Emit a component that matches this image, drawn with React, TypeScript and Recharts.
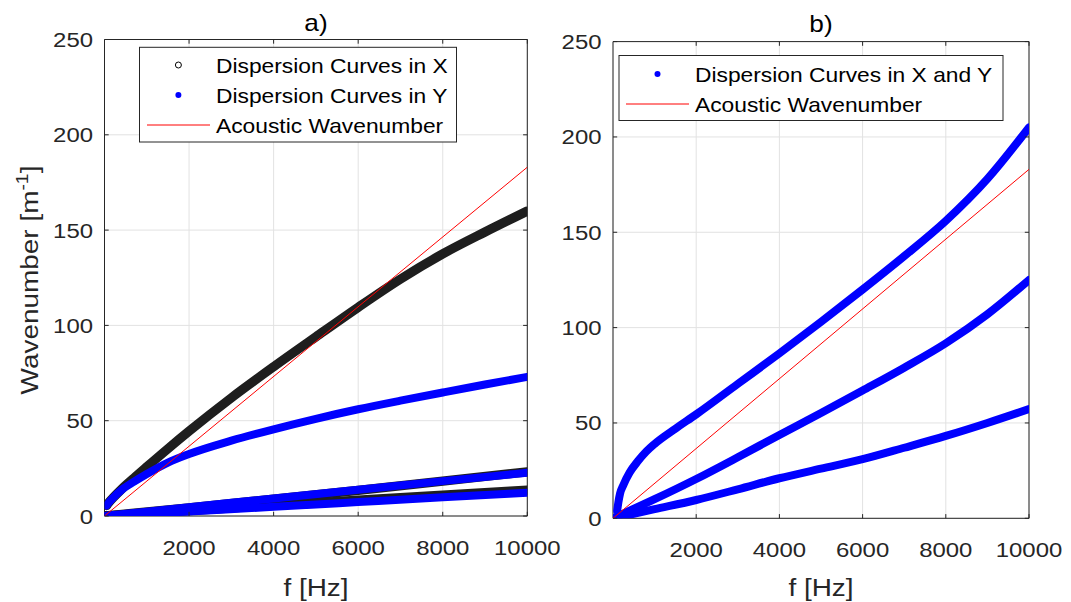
import React from 'react';
import { LineChart, Line, XAxis, YAxis, CartesianGrid, ReferenceArea } from 'recharts';

// ---------- data ----------
const xTicks = [2000, 4000, 6000, 8000, 10000];
const yTicks = [0, 50, 100, 150, 200, 250];

// panel a)
const fUpperA = [50, 100, 200, 400, 700, 1000, 1500, 2000, 3000, 4000, 5000, 6000, 7000, 8000, 9000, 10000];
const kX1 = [5.5, 7, 9.5, 14, 20, 25.8, 35.3, 44.5, 62, 78.3, 94, 109.5, 124.3, 137.5, 149, 160];
const kY1 = [5.5, 7, 9.5, 13.6, 18, 22, 28, 32.5, 39.5, 45.5, 51, 56, 60.5, 64.8, 69, 73];
const fLowerA = [0, 2000, 4000, 6000, 8000, 10000];
const kX2 = [0, 4.3, 8.8, 13.5, 18.3, 23.2];
const kY2 = [0, 4.6, 9.2, 13.8, 18.3, 22.7];
const kX3 = [0, 2.8, 5.6, 8.3, 11, 13.6];
const kY3 = [0, 2.4, 4.8, 7.3, 9.8, 12.2];

// panel b)
const fUpperB = [100, 130, 170, 250, 400, 600, 800, 1000, 1500, 2000, 3000, 4000, 5000, 6000, 7000, 8000, 9000, 10000];
const kXY1 = [4, 8.5, 13, 17.5, 24, 30, 35, 39, 47, 54.5, 70.5, 86.5, 103, 120, 137.5, 156, 178, 205];
const fLowerB = [0, 1000, 2000, 3000, 4000, 5000, 6000, 7000, 8000, 9000, 10000];
const kXY2 = [0, 10, 20.6, 32, 43.7, 55.2, 67, 79, 91.8, 107, 125];
const kXY3 = [0, 4.8, 9.6, 15.2, 21, 26, 31, 37, 43.2, 50, 57.3];

// acoustic wavenumber (both panels)
const fAc = [0, 10000];
const kAc = [0, 183];

const legendA = ['Dispersion Curves in X', 'Dispersion Curves in Y', 'Acoustic Wavenumber'];
const legendB = ['Dispersion Curves in X and Y', 'Acoustic Wavenumber'];

const toRows = (f: number[], k: number[]) => f.map((v, i) => ({ f: v, k: k[i] }));

// ---------- styling ----------
const FONT = '"Liberation Sans", Arial, Helvetica, sans-serif';
const SX = 1.14;
const AX = '#262626';
const BLUE = '#0000ff';
const BLACK = '#1e1e1e';
const RED = '#ff0000';
const TL = 4.2;

type Box = { left: number; right: number; top: number; bottom: number };

const makeXTick = (b: Box) => (p: any) => {
  const { x, payload } = p;
  return (
    <g>
      <line x1={x} y1={b.bottom} x2={x} y2={b.bottom - TL} stroke={AX} strokeWidth={1} />
      <line x1={x} y1={b.top} x2={x} y2={b.top + TL} stroke={AX} strokeWidth={1} />
      <text
        transform={`translate(${x},${b.bottom + 38.8}) scale(${SX},1)`}
        textAnchor="middle"
        fontSize={21}
        fontFamily={FONT}
        fill={AX}
      >
        {payload.value}
      </text>
    </g>
  );
};

const makeYTick = (b: Box) => (p: any) => {
  const { y, payload } = p;
  return (
    <g>
      <line x1={b.left} y1={y} x2={b.left + TL} y2={y} stroke={AX} strokeWidth={1} />
      <line x1={b.right} y1={y} x2={b.right - TL} y2={y} stroke={AX} strokeWidth={1} />
      <text
        transform={`translate(${b.left - 11.5},${y + 7.5}) scale(${SX},1)`}
        textAnchor="end"
        fontSize={21}
        fontFamily={FONT}
        fill={AX}
      >
        {payload.value}
      </text>
    </g>
  );
};

const curve = (key: string, data: any[], color: string, width: number) => (
  <Line
    key={key}
    data={data}
    dataKey="k"
    type="monotone"
    stroke={color}
    strokeWidth={width}
    strokeLinecap="round"
    strokeLinejoin="round"
    dot={false}
    activeDot={false}
    isAnimationActive={false}
    legendType="none"
  />
);

function Panel({ offsetX, width, box, children }: { offsetX: number; width: number; box: Box; children: any }) {
  const yAxisW = 60;
  const xAxisH = 30;
  const local: Box = {
    left: box.left - offsetX,
    right: box.right - offsetX,
    top: box.top,
    bottom: box.bottom,
  };
  const margin = {
    top: box.top,
    left: local.left - yAxisW,
    right: width - local.right,
    bottom: 602 - box.bottom - xAxisH,
  };
  return (
    <div style={{ position: 'absolute', left: offsetX, top: 0, width, height: 602 }}>
      <LineChart width={width} height={602} margin={margin}>
        <CartesianGrid stroke="#e2e2e2" strokeWidth={1} />
        <XAxis
          type="number"
          dataKey="f"
          domain={[0, 10000]}
          ticks={xTicks}
          interval={0}
          allowDataOverflow
          height={xAxisH}
          axisLine={false}
          tickLine={false}
          tickSize={0}
          tickMargin={0}
          tick={makeXTick(local)}
        />
        <YAxis
          type="number"
          domain={[0, 250]}
          ticks={yTicks}
          interval={0}
          allowDataOverflow
          width={yAxisW}
          axisLine={false}
          tickLine={false}
          tickSize={0}
          tickMargin={0}
          tick={makeYTick(local)}
        />
        <ReferenceArea x1={0} x2={10000} y1={0} y2={250} fill="none" fillOpacity={0} stroke={AX} strokeWidth={1} />
        {children}
      </LineChart>
    </div>
  );
}

function Txt({ x, y, size, children, anchor = 'middle', rotate = 0, fill = AX }: any) {
  return (
    <text
      transform={`translate(${x},${y}) rotate(${rotate}) scale(${SX},1)`}
      textAnchor={anchor}
      fontSize={size}
      fontFamily={FONT}
      fill={fill}
    >
      {children}
    </text>
  );
}

export default function App() {
  const boxA: Box = { left: 104.5, right: 527.3, top: 39.5, bottom: 516 };
  const boxB: Box = { left: 613, right: 1029, top: 41.6, bottom: 518.3 };

  return (
    <div style={{ position: 'absolute', left: 0, top: 0, width: 1071, height: 602, background: '#fff', overflow: 'hidden' }}>
      <Panel offsetX={0} width={570} box={boxA}>
        {curve('x1', toRows(fUpperA, kX1), BLACK, 9.3)}
        {curve('x2', toRows(fLowerA, kX2), BLACK, 9.3)}
        {curve('x3', toRows(fLowerA, kX3), BLACK, 9.3)}
        {curve('y1', toRows(fUpperA, kY1), BLUE, 8)}
        {curve('y2', toRows(fLowerA, kY2), BLUE, 8)}
        {curve('y3', toRows(fLowerA, kY3), BLUE, 8)}
        {curve('ac', toRows(fAc, kAc), RED, 1)}
      </Panel>
      <Panel offsetX={540} width={531} box={boxB}>
        {curve('b1', toRows(fUpperB, kXY1), BLUE, 8)}
        {curve('b2', toRows(fLowerB, kXY2), BLUE, 8)}
        {curve('b3', toRows(fLowerB, kXY3), BLUE, 8)}
        {curve('bac', toRows(fAc, kAc), RED, 1)}
      </Panel>

      <svg width={1071} height={602} style={{ position: 'absolute', left: 0, top: 0, pointerEvents: 'none' }}>
        {/* titles */}
        <Txt x={316} y={30.5} size={23} fill="#000">a)</Txt>
        <Txt x={821} y={32} size={23} fill="#000">b)</Txt>
        {/* x labels */}
        <Txt x={316} y={596} size={24.5}>f [Hz]</Txt>
        <Txt x={821} y={596} size={24.5}>f [Hz]</Txt>
        {/* y label */}
        <text
          transform={`translate(38,280) rotate(-90) scale(${SX},1)`}
          textAnchor="middle"
          fontSize={24.5}
          fontFamily={FONT}
          fill={AX}
        >
          Wavenumber [m
          <tspan dy={-10} fontSize={17}>-1</tspan>
          <tspan dy={10}>]</tspan>
        </text>

        {/* legend a */}
        <rect x={139.5} y={47.3} width={317} height={94.7} fill="#fff" stroke={AX} strokeWidth={1} />
        <circle cx={178.4} cy={65} r={3} fill="none" stroke="#000" strokeWidth={1} />
        <circle cx={178.4} cy={95} r={3} fill={BLUE} />
        <line x1={147} y1={125} x2={210} y2={125} stroke={RED} strokeWidth={1} />
        <Txt x={216} y={73.3} size={20} anchor="start" fill="#000">{legendA[0]}</Txt>
        <Txt x={216} y={103.3} size={20} anchor="start" fill="#000">{legendA[1]}</Txt>
        <Txt x={216} y={133.3} size={20} anchor="start" fill="#000">{legendA[2]}</Txt>

        {/* legend b */}
        <rect x={619} y={55.5} width={384} height={65} fill="#fff" stroke={AX} strokeWidth={1} />
        <circle cx={657.5} cy={74} r={3} fill={BLUE} />
        <line x1={626} y1={104} x2={689} y2={104} stroke={RED} strokeWidth={1} />
        <Txt x={695} y={81.5} size={20} anchor="start" fill="#000">{legendB[0]}</Txt>
        <Txt x={695} y={111.5} size={20} anchor="start" fill="#000">{legendB[1]}</Txt>
      </svg>
    </div>
  );
}
